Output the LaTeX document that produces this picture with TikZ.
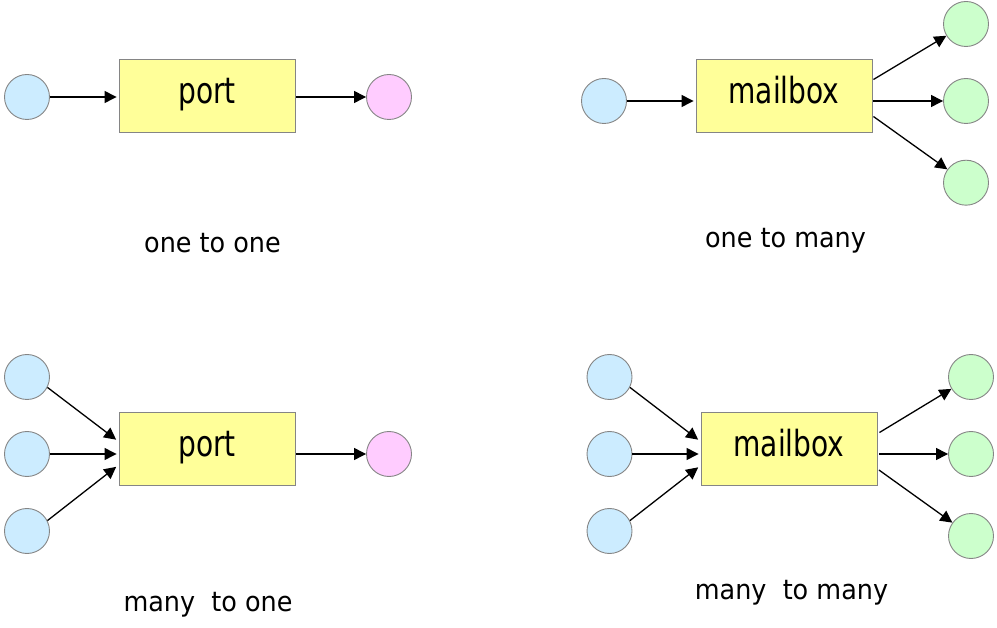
\documentclass[tikz,border=0pt]{standalone}
\usepackage{fontspec}
\usepackage{graphicx}
\setmainfont{DejaVu Sans}
\usetikzlibrary{arrows.meta}
\definecolor{cblue}{HTML}{CCECFF}
\definecolor{cpink}{HTML}{FFCCFF}
\definecolor{cgreen}{HTML}{CCFFCC}
\definecolor{cyel}{HTML}{FFFF99}
\definecolor{cedge}{HTML}{858585}
\tikzset{
  proc/.style={circle, draw=cedge, line width=0.9pt, minimum size=45pt, inner sep=0pt},
  sender/.style={proc, fill=cblue},
  recv/.style={proc, fill=cpink},
  mrecv/.style={proc, fill=cgreen},
  chan/.style={rectangle, draw=cedge, line width=0.9pt, fill=cyel, minimum width=176pt, minimum height=73pt, inner sep=0pt, text height=21pt, text depth=5pt, font=\fontsize{36}{36}\selectfont},
  arr/.style={line width=1.3pt, black, -{Stealth[length=12pt,width=12pt,inset=0pt]}},
  caption/.style={anchor=base, inner sep=0pt, font=\fontsize{27.4}{28}\selectfont}
}
\newcommand{\bx}[1]{\scalebox{0.78}[1]{#1}}
\newcommand{\cp}[1]{\scalebox{0.93}[1]{#1}}
\begin{document}
\begin{tikzpicture}[x=1pt,y=-1pt]
\useasboundingbox (0,0) rectangle (997,628);
% ---------- one to one
\node[sender] (c11) at (27,97) {};
\node[chan] (box1) at (207,95.5) {\bx{port}};
\node[recv] (c12) at (389,97) {};
\draw[arr, shorten >=2pt] (c11.east) -- (c11.east -| box1.west);
\draw[arr, shorten <=1pt] (c12.west -| box1.east) -- (c12.west);
\node[caption] (l1) at (212.5,253) {\cp{one to one}};
% ---------- one to many
\node[sender] (c21) at (604,101) {};
\node[chan] (box2) at (784,95.5) {\bx{mailbox}};
\node[mrecv] (g21) at (966,24) {};
\node[mrecv] (g22) at (966,101) {};
\node[mrecv] (g23) at (966,182.7) {};
\coordinate (o21) at ([yshift=16pt,xshift=1pt]box2.east);
\coordinate (o23) at ([yshift=-21pt,xshift=1pt]box2.east);
\draw[arr, shorten >=2pt] (c21.east) -- (c21.east -| box2.west);
\draw[arr] (o21) -- (g21);
\draw[arr, shorten <=1pt] (g22.west -| box2.east) -- (g22.west);
\draw[arr] (o23) -- (g23);
\node[caption] (l2) at (785.5,247.3) {\cp{one to many}};
% ---------- many to one
\node[sender] (c31) at (27,377) {};
\node[sender] (c32) at (27,454) {};
\node[sender] (c33) at (27,531) {};
\node[chan] (box3) at (207,448.5) {\bx{port}};
\node[recv] (c34) at (389,454) {};
\coordinate (t31) at ([yshift=7pt]box3.west);
\coordinate (t33) at ([yshift=-16.5pt]box3.west);
\draw[arr, shorten >=3pt] (c31.-27) -- (t31);
\draw[arr, shorten >=2pt] (c32.east) -- (c32.east -| box3.west);
\draw[arr, shorten >=3pt] (c33.27) -- (t33);
\draw[arr, shorten <=1pt] (c34.west -| box3.east) -- (c34.west);
\node[caption] (l3) at (208,611.7) {\cp{many\ \ to one}};
% ---------- many to many
\node[sender] (c41) at (609.5,377) {};
\node[sender] (c42) at (609.5,454) {};
\node[sender] (c43) at (609.5,531) {};
\node[chan] (box4) at (789,448.5) {\bx{mailbox}};
\node[mrecv] (g41) at (971,377) {};
\node[mrecv] (g42) at (971,454) {};
\node[mrecv] (g43) at (971,536) {};
\coordinate (t41) at ([yshift=7pt]box4.west);
\coordinate (t43) at ([yshift=-17pt]box4.west);
\coordinate (o41) at ([yshift=16pt,xshift=2pt]box4.east);
\coordinate (o43) at ([yshift=-21.5pt,xshift=1.5pt]box4.east);
\draw[arr, shorten >=3pt] (c41.-27) -- (t41);
\draw[arr, shorten >=2pt] (c42.east) -- (c42.east -| box4.west);
\draw[arr, shorten >=3pt] (c43.27) -- (t43);
\draw[arr] (o41) -- (g41);
\draw[arr, shorten <=2pt] (g42.west -| box4.east) -- (g42.west);
\draw[arr] (o43) -- (g43);
\node[caption] (l4) at (791.5,599.3) {\cp{many\ \ to many}};
\end{tikzpicture}
\end{document}
